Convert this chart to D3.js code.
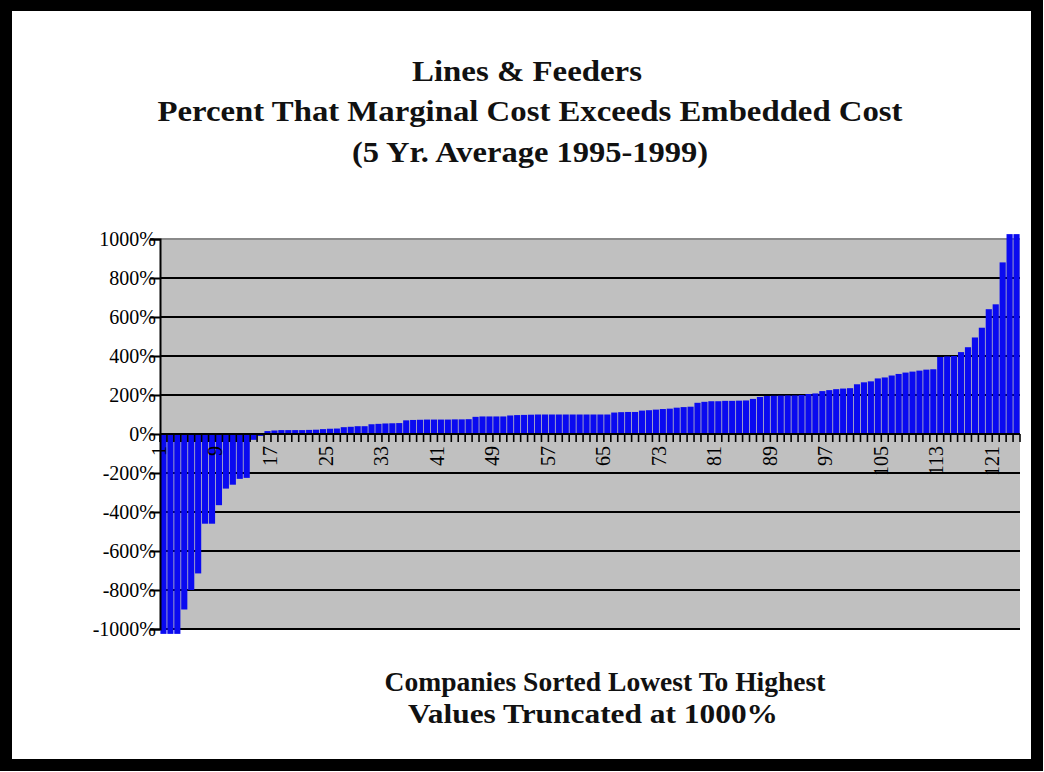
<!DOCTYPE html>
<html><head><meta charset="utf-8">
<script src="https://cdn.jsdelivr.net/npm/d3@7"></script>
<style>html,body{margin:0;padding:0;background:#fff;} svg{display:block;}</style>
</head><body>
<svg id="chart" width="1044" height="772"></svg>
<script>
// ---- data ----
const titleLines = ["Lines & Feeders", "Percent That Marginal Cost Exceeds Embedded Cost", "(5 Yr. Average 1995-1999)"];
const xTitleLines = ["Companies Sorted Lowest To Highest", "Values Truncated at 1000%"];
// percent that marginal cost exceeds embedded cost, companies sorted ascending (truncated at +/-1000%)
const values = [
  -1025, -1025, -1025, -900, -800, -715, -460, -460, -365, -280,
  -260, -230, -225, -30, -10, 15, 18, 20, 20, 20,
  20, 21, 22, 25, 27, 28, 35, 37, 40, 40,
  50, 52, 54, 55, 56, 70, 72, 73, 74, 74,
  74, 74, 75, 75, 76, 88, 90, 90, 90, 90,
  95, 97, 98, 99, 100, 100, 100, 100, 100, 100,
  100, 100, 100, 100, 100, 110, 112, 113, 113, 120,
  122, 125, 128, 130, 135, 138, 140, 160, 165, 168,
  168, 170, 170, 171, 172, 180, 190, 195, 196, 197,
  198, 198, 200, 205, 208, 220, 225, 230, 233, 235,
  255, 265, 270, 285, 290, 300, 308, 315, 320, 325,
  330, 332, 395, 398, 400, 420, 445, 495, 545, 640,
  665, 880, 1025, 1025
];
const companies = values.map((d, i) => i + 1);
const xTickLabels = [1, 9, 17, 25, 33, 41, 49, 57, 65, 73, 81, 89, 97, 105, 113, 121];
const yTicks = [-1000, -800, -600, -400, -200, 0, 200, 400, 600, 800, 1000];

// ---- layout ----
const svg = d3.select("#chart");
const W = 1044, H = 772;
const plot = {left: 160, right: 1020, top: 239, bottom: 629};
const serif = "'Liberation Serif', 'Times New Roman', serif";

// outer frame
svg.append("rect").attr("x", 6).attr("y", 5).attr("width", W - 13).attr("height", H - 12)
  .attr("fill", "#fff").attr("stroke", "#000").attr("stroke-width", 12);

const xCat = d3.scaleBand().domain(companies).range([plot.left, plot.right]).padding(0);
const y = d3.scaleLinear().domain([-1000, 1000]).range([plot.bottom, plot.top]);

// plot background
svg.append("rect").attr("x", plot.left).attr("y", plot.top)
  .attr("width", plot.right - plot.left).attr("height", plot.bottom - plot.top)
  .attr("fill", "#c0c0c0");

// gridlines
svg.append("g").selectAll("line").data(yTicks).join("line")
  .attr("x1", plot.left).attr("x2", plot.right)
  .attr("y1", d => y(d)).attr("y2", d => y(d))
  .attr("stroke", d => d === 1000 ? "#8a8a8a" : "#000").attr("stroke-width", 2);

// bars
const step = xCat.step();
svg.append("g").selectAll("rect").data(values).join("rect")
  .attr("x", (d, i) => xCat(companies[i]) + 0.4)
  .attr("width", step - 0.8)
  .attr("y", d => y(Math.max(0, d)))
  .attr("height", d => Math.abs(y(d) - y(0)))
  .attr("fill", "#0a0af0");

// y axis
const yAxis = svg.append("g").attr("transform", `translate(${plot.left},0)`)
  .call(d3.axisLeft(y).tickValues(yTicks).tickFormat(d => d + "%").tickSize(10).tickPadding(-6));
yAxis.select(".domain").attr("stroke", "#000").attr("stroke-width", 2);
yAxis.selectAll(".tick line").attr("stroke", "#000").attr("stroke-width", 2);
yAxis.selectAll("text").attr("font-family", serif).attr("font-size", 20).attr("fill", "#000");

// x axis (zero line), ticks at category boundaries
svg.append("line").attr("x1", plot.left).attr("x2", plot.right)
  .attr("y1", y(0)).attr("y2", y(0)).attr("stroke", "#000").attr("stroke-width", 2);
const boundaries = companies.map(c => xCat(c)).concat([plot.right]);
svg.append("g").selectAll("line").data(boundaries).join("line")
  .attr("x1", d => d).attr("x2", d => d)
  .attr("y1", y(0)).attr("y2", y(0) + 8)
  .attr("stroke", "#000").attr("stroke-width", 1.6);

const xAxis = svg.append("g").attr("transform", `translate(0,${y(0)})`)
  .call(d3.axisBottom(xCat).tickValues(xTickLabels).tickSize(0).tickPadding(0));
xAxis.select(".domain").remove();
xAxis.selectAll("text")
  .attr("transform", "rotate(-90)")
  .attr("text-anchor", "end")
  .attr("x", -12).attr("y", 0).attr("dy", "0.15em")
  .attr("font-family", serif).attr("font-size", 20).attr("fill", "#000");

// titles
const titleSpecs = [
  {cx: 527, y: 81, len: 230},
  {cx: 530, y: 121, len: 745},
  {cx: 530, y: 162, len: 356}
];
svg.append("g").selectAll("text").data(titleLines).join("text")
  .attr("x", (d, i) => titleSpecs[i].cx).attr("y", (d, i) => titleSpecs[i].y)
  .attr("text-anchor", "middle")
  .attr("textLength", (d, i) => titleSpecs[i].len).attr("lengthAdjust", "spacingAndGlyphs")
  .attr("font-family", serif).attr("font-weight", "bold").attr("font-size", 29).attr("fill", "#111")
  .text(d => d);

const xTitleSpecs = [
  {cx: 605, y: 691, len: 441},
  {cx: 593, y: 723, len: 370}
];
svg.append("g").selectAll("text").data(xTitleLines).join("text")
  .attr("x", (d, i) => xTitleSpecs[i].cx).attr("y", (d, i) => xTitleSpecs[i].y)
  .attr("text-anchor", "middle")
  .attr("textLength", (d, i) => xTitleSpecs[i].len).attr("lengthAdjust", "spacingAndGlyphs")
  .attr("font-family", serif).attr("font-weight", "bold").attr("font-size", 27).attr("fill", "#111")
  .text(d => d);
</script>
</body></html>
